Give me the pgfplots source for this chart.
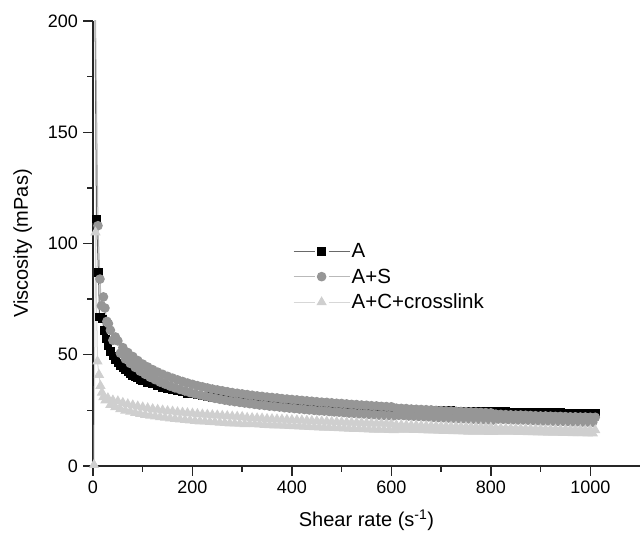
\documentclass[border=0pt]{standalone}
\usepackage{fontspec}
\setmainfont{Liberation Sans}
\usepackage{pgfplots}
\pgfplotsset{compat=1.18}
\definecolor{cA}{RGB}{0,0,0}
\definecolor{cAline}{RGB}{105,105,105}
\definecolor{cS}{RGB}{150,150,150}
\definecolor{cSline}{RGB}{185,185,185}
\definecolor{cC}{RGB}{207,207,207}
\definecolor{cCline}{RGB}{215,215,215}
\begin{document}
\begin{tikzpicture}
\path[use as bounding box] (-93pt,-68pt) rectangle (547pt,466pt);
\begin{axis}[
  scale only axis, width=547pt, height=445pt,
  xmin=0, xmax=1100, ymin=0, ymax=200,
  axis lines*=left,
  axis line style={line width=1.6pt, black!85},
  xtick={0,200,...,1000}, ytick={0,50,...,200},
  minor x tick num=1, minor y tick num=1,
  tick align=outside,
  major tick length=10pt, minor tick length=6pt,
  every tick/.style={black!85, line width=1.4pt},
  /pgf/number format/assume math mode=true,
  /pgf/number format/1000 sep={},
  tick label style={font=\fontsize{18}{18}\selectfont},
  xticklabel style={inner sep=0pt, yshift=-5pt},
  yticklabel style={inner sep=0pt, xshift=-5pt},
  label style={font=\fontsize{20}{20}\selectfont},
  xlabel={Shear rate (s\textsuperscript{-1})},
  ylabel={Viscosity (mPas)},
  xlabel style={at={(axis description cs:0.5,-0.137)}, anchor=base, inner sep=0pt},
  ylabel style={at={(axis description cs:-0.146,0.5)}, anchor=north, inner sep=0pt},
  legend style={draw=none, fill=none, at={(0.36,0.508)}, anchor=north west,
    font=\fontsize{20.5}{20.5}\selectfont, row sep=6.5pt,
    nodes={inner sep=1.5pt}},
  legend cell align=left,
  legend image code/.code={
    \draw[#1] (0pt,0pt) -- (21pt,0pt);
    \draw[#1] (35pt,0pt) -- (56pt,0pt);
    \draw[#1, only marks] plot coordinates {(28pt,0pt)};},
  clip=true,
]
% ---- A ----
\addplot[color=cAline, line width=1pt, mark=square*, mark size=3.8pt,
  mark options={solid, fill=cA, draw=cA}] coordinates {
(3,240)(7,111)(11,87)(13,67)(16,67)(19,66)(22,61)(26,57)(30,54)(35,51.5)(40,49.5)(45,47.8)(50,46.3)
(55,45.1)(60,44)(65,43.1)(70,42.2)(75,41.4)(80,40.7)(85,40.1)(90,39.5)(95,39.0)(100,38.5)(110,37.6)(120,36.8)(130,36.1)(140,35.4)(150,34.8)
(160,34.2)(170,33.7)(180,33.2)(190,32.7)(200,32.3)(210,31.9)(220,31.5)(230,31.2)(240,30.9)(250,30.6)
(260,30.3)(270,30.0)(280,29.8)(290,29.5)(300,29.3)(310,29.1)(320,28.9)(330,28.7)(340,28.5)(350,28.3)
(360,28.2)(370,28.0)(380,27.8)(390,27.7)(400,27.5)(410,27.4)(420,27.3)(430,27.1)(440,27.0)(450,26.9)
(460,26.8)(470,26.7)(480,26.6)(490,26.5)(500,26.4)(510,26.3)(520,26.2)(530,26.1)(540,26.0)(550,25.9)
(560,25.9)(570,25.8)(580,25.7)(590,25.6)(600,25.6)(610,25.5)(620,25.4)(630,25.4)(640,25.3)(650,25.2)
(660,25.2)(670,25.1)(680,25.1)(690,25.0)(700,25.0)(710,24.9)(720,24.9)(730,24.8)(740,24.8)(750,24.7)
(760,24.7)(770,24.6)(780,24.6)(790,24.5)(800,24.5)(810,24.4)(820,24.4)(830,24.4)(840,24.3)(850,24.3)
(860,24.2)(870,24.2)(880,24.2)(890,24.1)(900,24.1)(910,24.1)(920,24.0)(930,24.0)(940,24.0)(950,23.9)
(960,23.9)(970,23.9)(980,23.8)(990,23.8)(1000,23.8)(1010,23.7)
};
\addlegendentry{A}
% ---- A+S (upper readings) ----
\addplot[color=cSline, line width=1pt, mark=*, mark size=4.3pt,
  mark options={solid, fill=cS, draw=cS}] coordinates {
(3,240)(10,108)(14,84)(17,72)(21,76)(24,71)(28,65)(31,64)(35,61)(40,56.5)(45,58)
(50,56.2)(60,53.2)(70,51.0)(80,49.2)(90,47.4)(100,45.8)(110,44.5)(120,43.3)(130,42.2)(140,41.2)
(150,40.3)(160,39.5)(170,38.7)(180,38.0)(190,37.3)(200,36.7)(210,36.1)(220,35.6)(230,35.1)(240,34.6)
(250,34.2)(260,33.8)(270,33.4)(280,33.0)(290,32.7)(300,32.4)(310,32.1)(320,31.8)(330,31.5)(340,31.3)
(350,31.0)(360,30.8)(370,30.6)(380,30.3)(390,30.1)(400,29.9)(410,29.7)(420,29.5)(430,29.3)(440,29.1)
(450,28.9)(460,28.7)(470,28.6)(480,28.4)(490,28.2)(500,28.1)(510,27.9)(520,27.7)(530,27.6)(540,27.4)
(550,27.3)(560,27.1)(570,27.0)(580,26.8)(590,26.7)(600,26.6)(610,26.0)(620,25.9)(630,25.8)(640,25.6)
(650,25.5)(660,25.4)(670,25.3)(680,25.2)(690,25.0)(700,24.9)(710,24.8)(720,24.7)(730,24.6)(740,24.5)
(750,24.4)(760,24.3)(770,24.2)(780,24.1)(790,24.0)(800,23.9)(810,23.3)(820,23.2)(830,23.1)(840,23.0)
(850,22.9)(860,22.9)(870,22.8)(880,22.7)(890,22.6)(900,22.5)(910,22.5)(920,22.4)(930,22.3)(940,22.3)
(950,22.2)(960,22.1)(970,22.1)(980,22.0)(990,22.0)(1000,21.9)(1010,21.9)
};
\addlegendentry{A+S}
% ---- A+S (lower readings) ----
\addplot[forget plot, color=cSline, line width=1pt, mark=*, mark size=4.3pt,
  mark options={solid, fill=cS, draw=cS}] coordinates {
(55,50.7)(65,48.1)(75,46.1)(85,44.3)(95,42.6)(105,41.2)(115,39.9)(125,38.8)(135,37.7)(145,36.8)
(155,35.9)(165,35.1)(175,34.4)(185,33.7)(195,33.0)(205,32.4)(215,31.9)(225,31.4)(235,30.9)(245,30.4)
(255,30.0)(265,29.6)(275,29.2)(285,28.9)(295,28.6)(305,28.3)(315,28.0)(325,27.7)(335,27.4)(345,27.2)
(355,26.9)(365,26.7)(375,26.5)(385,26.2)(395,26.0)(405,25.8)(415,25.6)(425,25.4)(435,25.2)(445,25.0)
(455,24.8)(465,24.7)(475,24.5)(485,24.3)(495,24.2)(505,24.0)(515,23.8)(525,23.7)(535,23.5)(545,23.4)
(555,23.2)(565,23.1)(575,22.9)(585,22.8)(595,22.7)(605,22.6)(615,22.8)(625,22.7)(635,22.5)(645,22.4)
(655,22.3)(665,22.2)(675,22.1)(685,21.9)(695,21.8)(705,21.7)(715,21.6)(725,21.5)(735,21.4)(745,21.3)
(755,21.2)(765,21.1)(775,21.0)(785,20.9)(795,20.8)(805,20.7)(815,21.1)(825,21.0)(835,20.9)(845,20.8)
(855,20.7)(865,20.7)(875,20.6)(885,20.5)(895,20.4)(905,20.3)(915,20.3)(925,20.2)(935,20.1)(945,20.1)
(955,20.0)(965,19.9)(975,19.9)(985,19.8)(995,19.8)(1005,19.7)
};
% ---- A+C+crosslink (upper readings) ----
\addplot[color=cCline, line width=1pt, mark=triangle*, mark size=5pt,
  mark options={solid, fill=cC, draw=cC}] coordinates {
(2,0.5)(5,105)(9,47)(12,41)(15,36)(18,33)(21,31)(25,29.5)(30,30.5)(35,27.5)(40,29.5)(45,26.5)
(50,29.1)(60,28.4)(70,27.8)(80,27.3)(90,26.8)(100,26.4)(110,26.0)(120,25.6)(130,25.3)(140,25.0)
(150,24.7)(160,24.5)(170,24.2)(180,24.0)(190,23.8)(200,23.6)(210,23.4)(220,23.2)(230,23.1)(240,22.9)
(250,22.8)(260,22.6)(270,22.5)(280,22.3)(290,22.2)(300,22.1)(310,21.7)(320,21.6)(330,21.5)(340,21.4)
(350,21.2)(360,21.1)(370,21.0)(380,20.9)(390,20.8)(400,20.7)(410,20.6)(420,20.5)(430,20.4)(440,20.3)
(450,20.2)(460,20.1)(470,20.0)(480,19.9)(490,19.8)(500,19.7)(510,19.6)(520,19.5)(530,19.5)(540,19.4)
(550,19.3)(560,19.2)(570,19.1)(580,19.1)(590,19.0)(600,18.9)(610,18.4)(620,18.4)(630,18.3)(640,18.2)
(650,18.2)(660,18.1)(670,18.0)(680,18.0)(690,17.9)(700,17.8)(710,17.8)(720,17.7)(730,17.7)(740,17.6)
(750,17.5)(760,17.5)(770,17.4)(780,17.4)(790,17.3)(800,17.3)(810,16.9)(820,16.9)(830,16.8)(840,16.8)
(850,16.7)(860,16.7)(870,16.6)(880,16.6)(890,16.5)(900,16.5)(910,16.4)(920,16.4)(930,16.4)(940,16.3)
(950,16.3)(960,16.2)(970,16.2)(980,16.2)(990,16.1)(1000,16.1)(1010,16.1)
};
\addlegendentry{A+C+crosslink}
% ---- A+C+crosslink (lower readings) ----
\addplot[forget plot, color=cCline, line width=1pt, mark=triangle*, mark size=5pt,
  mark options={solid, fill=cC, draw=cC}] coordinates {
(55,25.6)(65,24.9)(75,24.4)(85,23.9)(95,23.4)(105,23.0)(115,22.6)(125,22.3)(135,22.0)(145,21.7)
(155,21.4)(165,21.2)(175,20.9)(185,20.7)(195,20.5)(205,20.3)(215,20.1)(225,20.0)(235,19.8)(245,19.7)
(255,19.5)(265,19.4)(275,19.2)(285,19.1)(295,19.0)(305,18.8)(315,18.9)(325,18.8)(335,18.7)(345,18.5)
(355,18.4)(365,18.3)(375,18.2)(385,18.1)(395,18.0)(405,17.9)(415,17.8)(425,17.7)(435,17.6)(445,17.5)
(455,17.4)(465,17.3)(475,17.2)(485,17.1)(495,17.0)(505,16.9)(515,16.8)(525,16.7)(535,16.7)(545,16.6)
(555,16.5)(565,16.4)(575,16.3)(585,16.3)(595,16.2)(605,16.1)(615,16.4)(625,16.4)(635,16.3)(645,16.2)
(655,16.2)(665,16.1)(675,16.0)(685,16.0)(695,15.9)(705,15.8)(715,15.8)(725,15.7)(735,15.7)(745,15.6)
(755,15.5)(765,15.5)(775,15.4)(785,15.4)(795,15.3)(805,15.3)(815,15.5)(825,15.5)(835,15.4)(845,15.4)
(855,15.3)(865,15.3)(875,15.2)(885,15.2)(895,15.1)(905,15.1)(915,15.0)(925,15.0)(935,15.0)(945,14.9)
(955,14.9)(965,14.8)(975,14.8)(985,14.8)(995,14.7)(1005,14.7)
};
\end{axis}
\end{tikzpicture}
\end{document}
